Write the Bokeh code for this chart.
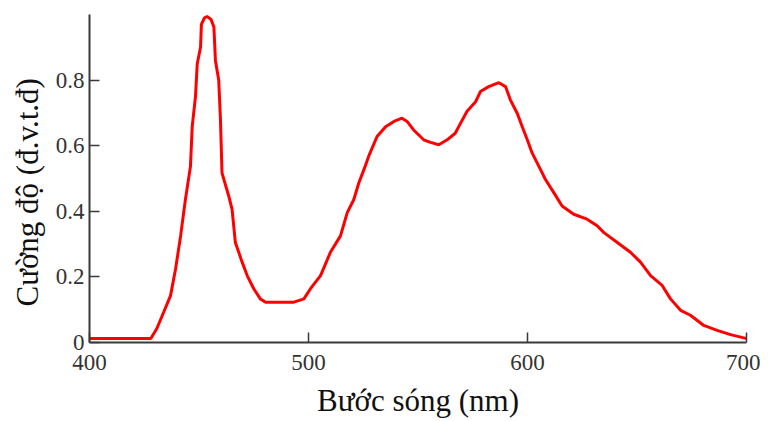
from bokeh.plotting import figure
from bokeh.models import Range1d, FixedTicker, Title
from bokeh.embed import file_html
from bokeh.resources import INLINE

# Wavelength (nm) and relative intensity
wavelength = [400, 428, 430.7, 433.9, 437, 439.3, 441.6, 443.8, 446.1, 446.9,
              448.4, 449.2, 450.7, 451.1, 452.5, 453.7, 455.5, 456.8, 457.5, 459,
              459.8, 460.5, 463.6, 465.1, 466.6, 469.7, 472, 475, 478, 480.4,
              493.3, 497.9, 500.9, 505.5, 510, 514.6, 517.7, 520.7, 523, 525.3,
              527.5, 531.3, 535.2, 539, 542.7, 545, 548, 552.6, 555.7, 559.5,
              563.3, 567, 569.4, 572.4, 576.3, 578.5, 582.3, 586.9, 590, 592.2,
              595.3, 597.6, 599.9, 602.1, 605.2, 608.2, 612, 615.8, 621.1, 627.2,
              631.8, 634.9, 641, 647, 651.6, 656.2, 661.5, 665.3, 669.9, 674.4,
              680.5, 686.6, 692.7, 698.8, 700]
intensity = [0.012, 0.012, 0.042, 0.093, 0.143, 0.224, 0.325, 0.436, 0.537, 0.658,
             0.75, 0.85, 0.90, 0.97, 0.99, 0.994, 0.985, 0.962, 0.86, 0.80,
             0.68, 0.517, 0.446, 0.406, 0.305, 0.245, 0.204, 0.164, 0.133, 0.123,
             0.123, 0.133, 0.164, 0.204, 0.275, 0.325, 0.396, 0.436, 0.487, 0.527,
             0.568, 0.628, 0.658, 0.674, 0.684, 0.674, 0.648, 0.618, 0.61, 0.603,
             0.618, 0.638, 0.668, 0.705, 0.734, 0.765, 0.78, 0.792, 0.78, 0.739,
             0.699, 0.658, 0.618, 0.578, 0.537, 0.497, 0.457, 0.416, 0.391, 0.376,
             0.356, 0.335, 0.305, 0.275, 0.245, 0.204, 0.174, 0.133, 0.098, 0.083,
             0.052, 0.037, 0.024, 0.014, 0.012]

x_ticks = [400, 500, 600, 700]
y_ticks = [0, 0.2, 0.4, 0.6, 0.8]
y_tick_labels = {0: "0", 0.2: "0.2", 0.4: "0.4", 0.6: "0.6", 0.8: "0.8"}

x_label = "Bước sóng (nm)"
y_label = "Cường độ (đ.v.t.đ)"

FONT = "Liberation Serif"

p = figure(width=760, height=420, output_backend="svg", toolbar_location=None,
           x_range=Range1d(400, 700), y_range=Range1d(0, 1.0),
           min_border_left=89, min_border_right=14, min_border_top=14,
           min_border_bottom=76)
p.outline_line_color = None
p.grid.visible = False

p.line(wavelength, intensity, line_color="#ff0000", line_width=3)

for ax in (p.xaxis[0], p.yaxis[0]):
    ax.axis_line_color = "#3a3a3a"
    ax.axis_line_width = 2
    ax.major_tick_line_color = "#3a3a3a"
    ax.major_tick_line_width = 1.5
    ax.major_tick_in = 10
    ax.major_tick_out = 0
    ax.minor_tick_line_color = None
    ax.major_label_text_font = FONT
    ax.major_label_text_font_size = "23px"
    ax.major_label_text_color = "#333333"
    ax.axis_label_text_font = FONT
    ax.axis_label_text_font_size = "31px"
    ax.axis_label_text_font_style = "normal"
    ax.axis_label_text_color = "#111111"

p.xaxis.ticker = FixedTicker(ticks=x_ticks)
p.yaxis.ticker = FixedTicker(ticks=y_ticks)
p.yaxis.major_label_overrides = y_tick_labels
p.xaxis.major_label_standoff = 12
p.yaxis.major_label_standoff = 5
p.xaxis.axis_label = x_label
p.xaxis.axis_label_standoff = 10

ytitle = Title(text=y_label, align="left", offset=36, standoff=15,
               text_font=FONT, text_font_size="31px", text_font_style="normal",
               text_color="#111111")
p.add_layout(ytitle, "left")

open("out.html", "w").write(file_html(p, INLINE))
